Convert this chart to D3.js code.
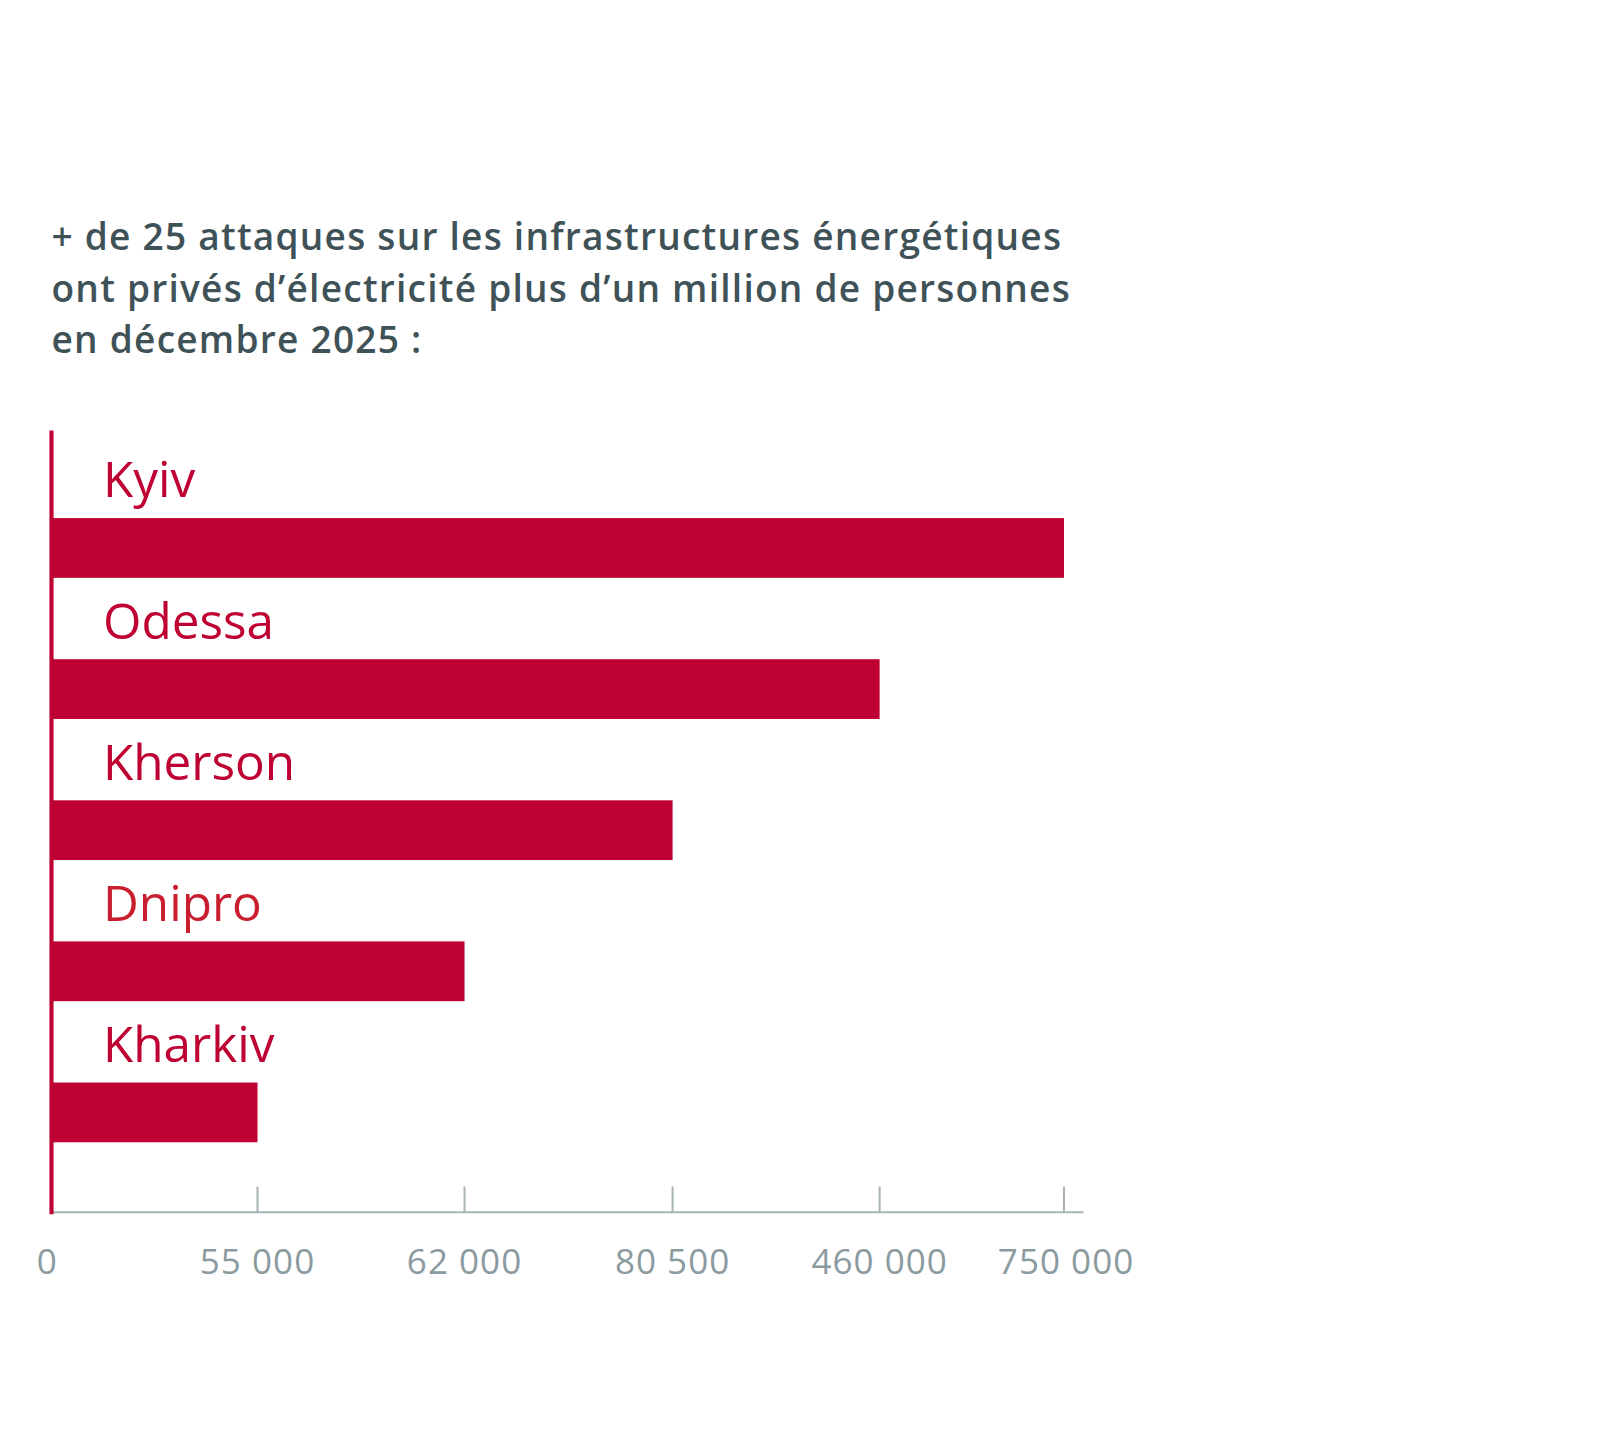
<!DOCTYPE html>
<html><head><meta charset="utf-8">
<script src="https://cdn.jsdelivr.net/npm/d3@7"></script>
<style>body{margin:0;background:#fff}</style></head>
<body><div id="chart"></div>
<script>
var cities = ["Kyiv", "Odessa", "Kherson", "Dnipro", "Kharkiv"];
var values = [750000, 460000, 80500, 62000, 55000];
var tickValues = [0, 55000, 62000, 80500, 460000, 750000];
var titleLines = ["+ de 25 attaques sur les infrastructures énergétiques",
  "ont privés d’électricité plus d’un million de personnes",
  "en décembre 2025 :"];

var svg = d3.select("#chart").append("svg")
  .attr("width", 1608).attr("height", 1444)
  .style("font-family", "'Open Sans', sans-serif");
var root = svg.append("g").attr("transform", "scale(1.03)");

// uneven axis: each tick gets its own step
var x = d3.scaleLinear()
  .domain(tickValues)
  .range([50, 250, 451, 653, 854, 1033]);
var y = d3.scaleBand()
  .domain(cities)
  .range([446, 1131])
  .paddingInner(0);

root.selectAll("text.title").data(titleLines).enter().append("text")
  .attr("x", 50).attr("y", function(d, i) { return 243 + i * 50; })
  .attr("font-size", 36).attr("font-weight", 600)
  .attr("letter-spacing", 1.2)
  .attr("fill", "#3f5257").text(function(d) { return d; });

root.selectAll("rect.bar").data(values).enter().append("rect")
  .attr("x", 50)
  .attr("y", function(d, i) { return y(cities[i]) + 57; })
  .attr("width", function(d) { return x(d) - 50; })
  .attr("height", 58)
  .attr("fill", "#be0032");

root.selectAll("text.city").data(cities).enter().append("text")
  .attr("x", 100).attr("y", function(d) { return y(d) + 37; })
  .attr("font-size", 48)
  .attr("fill", function(d) { return d === "Dnipro" ? "#c81e2e" : "#be0032"; })
  .text(function(d) { return d; });

var axis = root.append("g").attr("transform", "translate(0,1177)");
axis.append("line").attr("x1", 50).attr("x2", 1052)
  .attr("stroke", "#a9b4b7").attr("stroke-width", 2);
axis.selectAll("line.tick").data(tickValues.slice(1)).enter().append("line")
  .attr("x1", function(d) { return x(d); }).attr("x2", function(d) { return x(d); })
  .attr("y1", -25).attr("y2", 0)
  .attr("stroke", "#a9b4b7").attr("stroke-width", 2);
axis.selectAll("text").data(tickValues).enter().append("text")
  .attr("x", function(d, i) { return i === 0 ? 46 : x(d) + (i === 5 ? 2 : 0); })
  .attr("y", 60)
  .attr("text-anchor", "middle")
  .attr("font-size", 34).attr("letter-spacing", 1)
  .attr("fill", "#8a9a9e")
  .text(function(d) { return d3.format(",")(d).replace(/,/g, " "); });

root.append("line").attr("x1", 50).attr("x2", 50)
  .attr("y1", 418).attr("y2", 1179)
  .attr("stroke", "#be0032").attr("stroke-width", 4);
</script></body></html>
